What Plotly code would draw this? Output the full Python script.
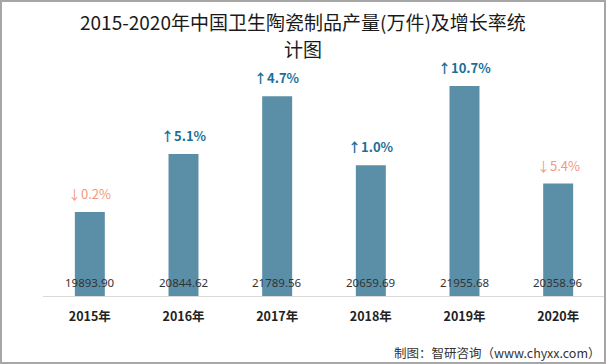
import plotly.graph_objects as go

W, H = 606, 364
years = ["2015年", "2016年", "2017年", "2018年", "2019年", "2020年"]
output = [19893.90, 20844.62, 21789.56, 20659.69, 21955.68, 20358.96]
growth = [-0.2, 5.1, 4.7, 1.0, 10.7, -5.4]
title_lines = ["2015-2020年中国卫生陶瓷制品产量(万件)及增长率统", "计图"]
source_text = "制图：智研咨询（www.chyxx.com）"

y_min, y_max = 18519, 22218

bar_color = "#5b8fa7"
up_color = "#1a6f98"
down_color = "#f4977c"

fig = go.Figure()
fig.add_trace(go.Bar(x=years, y=output, marker=dict(color=bar_color, line=dict(width=0)),
                     width=0.32, hoverinfo="x+y"))

ann = []
for yr, v, g in zip(years, output, growth):
    up = g >= 0
    txt = ("↑" if up else "↓") + f"{abs(g):.1f}%"
    ann.append(dict(x=yr, y=v, xref="x", yref="y", text=(f"<b>{txt}</b>" if up else txt),
                    showarrow=False, yanchor="bottom", yshift=7,
                    font=dict(size=13, color=up_color if up else down_color,
                              family="Noto Sans CJK SC")))
    ann.append(dict(x=yr, y=y_min, xref="x", yref="y", text=f"{v:.2f}",
                    showarrow=False, yanchor="bottom", yshift=4,
                    font=dict(size=11.5, color="#333333", family="Noto Sans, Noto Sans CJK SC")))

for i, line in enumerate(title_lines):
    ann.append(dict(x=0.5, y=(H - (21 + 28 * i)) / H, xref="paper", yref="paper", text=line,
                    showarrow=False, xanchor="center", yanchor="middle", borderpad=0,
                    font=dict(size=19, color="#1a1a1a", family="Noto Sans CJK SC")))

ann.append(dict(x=603 / W, y=(H - 352) / H, xref="paper", yref="paper", text=source_text,
                showarrow=False, xanchor="right", yanchor="middle",
                font=dict(size=12.5, color="#333333", family="Noto Sans CJK SC")))

fig.update_layout(
    width=W, height=H,
    margin=dict(l=0, r=0, t=0, b=0),
    paper_bgcolor="white", plot_bgcolor="white",
    showlegend=False,
    xaxis=dict(domain=[43 / W, 605 / W], showgrid=False, showline=True, linecolor="#d9d9d9",
               linewidth=1, ticks="", ticklabelstandoff=9,
               tickfont=dict(size=12.5, color="#222222", family="Noto Sans CJK SC"),
               tickprefix="<b>", ticksuffix="</b>"),
    yaxis=dict(domain=[(H - 296) / H, (H - 70) / H], range=[y_min, y_max], visible=False),
    annotations=ann,
    shapes=[dict(type="rect", xref="paper", yref="paper", x0=1 / W, x1=1 - 1 / W, y0=1 / H, y1=1 - 1 / H,
                 line=dict(color="#a6a6a6", width=2), fillcolor="rgba(0,0,0,0)", layer="above")],
)

fig.write_html("out.html", config={"displayModeBar": False},
               post_script="document.body.style.margin='0';document.body.style.overflow='hidden';")
